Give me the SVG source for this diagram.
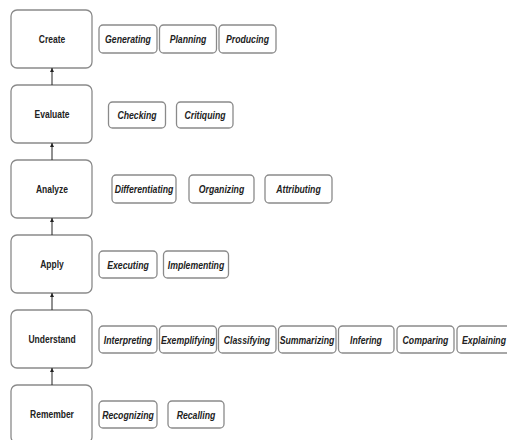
<svg xmlns="http://www.w3.org/2000/svg" width="507" height="440" viewBox="0 0 507 440">
  <style>
    .level rect { fill: #fff; stroke: #8a8a8a; stroke-width: 1.3; }
    .level text { font-family: "Liberation Sans", Arial, sans-serif; font-weight: bold; font-size: 10px; fill: #222; text-anchor: middle; dominant-baseline: central; }
    .verb rect { fill: #fff; stroke: #8a8a8a; stroke-width: 1.3; }
    .verb text { font-family: "Liberation Sans", Arial, sans-serif; font-weight: bold; font-style: italic; font-size: 10px; fill: #222; text-anchor: middle; dominant-baseline: central; }
    .link { stroke: #222; stroke-width: 1; fill: none; marker-end: url(#head); }
  </style>
  <defs>
    <marker id="head" viewBox="0 0 6 6" refX="6" refY="3" markerWidth="5" markerHeight="4" orient="auto" markerUnits="userSpaceOnUse">
      <path d="M0,0 L6,3 L0,6 Z" fill="#222"/>
    </marker>
  </defs>
  <rect width="507" height="440" fill="#fff"/>

  <!-- level boxes; labels are drawn slightly condensed -->
  <g id="create" class="level"><rect x="11" y="10" width="81" height="58" rx="6"/><text transform="translate(52 40) scale(0.85 1)">Create</text></g>
  <g id="evaluate" class="level"><rect x="11" y="85" width="81" height="58" rx="6"/><text transform="translate(52 115) scale(0.85 1)">Evaluate</text></g>
  <g id="analyze" class="level"><rect x="11" y="160" width="81" height="58" rx="6"/><text transform="translate(52 190) scale(0.85 1)">Analyze</text></g>
  <g id="apply" class="level"><rect x="11" y="235" width="81" height="58" rx="6"/><text transform="translate(52 265) scale(0.85 1)">Apply</text></g>
  <g id="understand" class="level"><rect x="11" y="310" width="81" height="58" rx="6"/><text transform="translate(52 340) scale(0.85 1)">Understand</text></g>
  <g id="remember" class="level"><rect x="11" y="385" width="81" height="58" rx="6"/><text transform="translate(52 415) scale(0.85 1)">Remember</text></g>

  <!-- connectors between levels -->
  <g id="connectors">
    <line class="link" x1="52" y1="85" x2="52" y2="68"/>
    <line class="link" x1="52" y1="160" x2="52" y2="143"/>
    <line class="link" x1="52" y1="235" x2="52" y2="218"/>
    <line class="link" x1="52" y1="310" x2="52" y2="293"/>
    <line class="link" x1="52" y1="385" x2="52" y2="368"/>
  </g>

  <!-- Create verbs -->
  <g id="generating" class="verb"><rect x="99" y="25" width="58" height="28" rx="4"/><text transform="translate(128 40) scale(0.87 1)">Generating</text></g>
  <g id="planning" class="verb"><rect x="159.5" y="25" width="57" height="28" rx="4"/><text transform="translate(188 40) scale(0.87 1)">Planning</text></g>
  <g id="producing" class="verb"><rect x="219" y="25" width="57" height="28" rx="4"/><text transform="translate(247.5 40) scale(0.87 1)">Producing</text></g>

  <!-- Evaluate verbs -->
  <g id="checking" class="verb"><rect x="108.5" y="102" width="57" height="26" rx="4"/><text transform="translate(137 116) scale(0.87 1)">Checking</text></g>
  <g id="critiquing" class="verb"><rect x="176.5" y="102" width="56.5" height="26" rx="4"/><text transform="translate(205 116) scale(0.87 1)">Critiquing</text></g>

  <!-- Analyze verbs -->
  <g id="differentiating" class="verb"><rect x="112" y="175" width="64" height="28" rx="4"/><text transform="translate(144 190) scale(0.87 1)">Differentiating</text></g>
  <g id="organizing" class="verb"><rect x="189" y="175" width="65" height="28" rx="4"/><text transform="translate(221.5 190) scale(0.87 1)">Organizing</text></g>
  <g id="attributing" class="verb"><rect x="265" y="175" width="67" height="28" rx="4"/><text transform="translate(298.5 190) scale(0.87 1)">Attributing</text></g>

  <!-- Apply verbs -->
  <g id="executing" class="verb"><rect x="99" y="251" width="58" height="27" rx="4"/><text transform="translate(128 265.5) scale(0.87 1)">Executing</text></g>
  <g id="implementing" class="verb"><rect x="163.5" y="251" width="65" height="27" rx="4"/><text transform="translate(196 265.5) scale(0.87 1)">Implementing</text></g>

  <!-- Understand verbs -->
  <g id="interpreting" class="verb"><rect x="99" y="326" width="58" height="27" rx="4"/><text transform="translate(128 340.5) scale(0.87 1)">Interpreting</text></g>
  <g id="exemplifying" class="verb"><rect x="159.5" y="326" width="57" height="27" rx="4"/><text transform="translate(188 340.5) scale(0.87 1)">Exemplifying</text></g>
  <g id="classifying" class="verb"><rect x="218.5" y="326" width="57.5" height="27" rx="4"/><text transform="translate(247 340.5) scale(0.87 1)">Classifying</text></g>
  <g id="summarizing" class="verb"><rect x="278.5" y="326" width="57.5" height="27" rx="4"/><text transform="translate(307 340.5) scale(0.87 1)">Summarizing</text></g>
  <g id="infering" class="verb"><rect x="338.5" y="326" width="55.5" height="27" rx="4"/><text transform="translate(366 340.5) scale(0.87 1)">Infering</text></g>
  <g id="comparing" class="verb"><rect x="397" y="326" width="57" height="27" rx="4"/><text transform="translate(425.5 340.5) scale(0.87 1)">Comparing</text></g>
  <g id="explaining" class="verb"><rect x="457" y="326" width="57" height="27" rx="4"/><text transform="translate(484 340.5) scale(0.87 1)">Explaining</text></g>

  <!-- Remember verbs -->
  <g id="recognizing" class="verb"><rect x="99" y="401" width="58" height="27" rx="4"/><text transform="translate(128 415.5) scale(0.87 1)">Recognizing</text></g>
  <g id="recalling" class="verb"><rect x="168" y="401" width="56" height="27" rx="4"/><text transform="translate(196 415.5) scale(0.87 1)">Recalling</text></g>
</svg>
